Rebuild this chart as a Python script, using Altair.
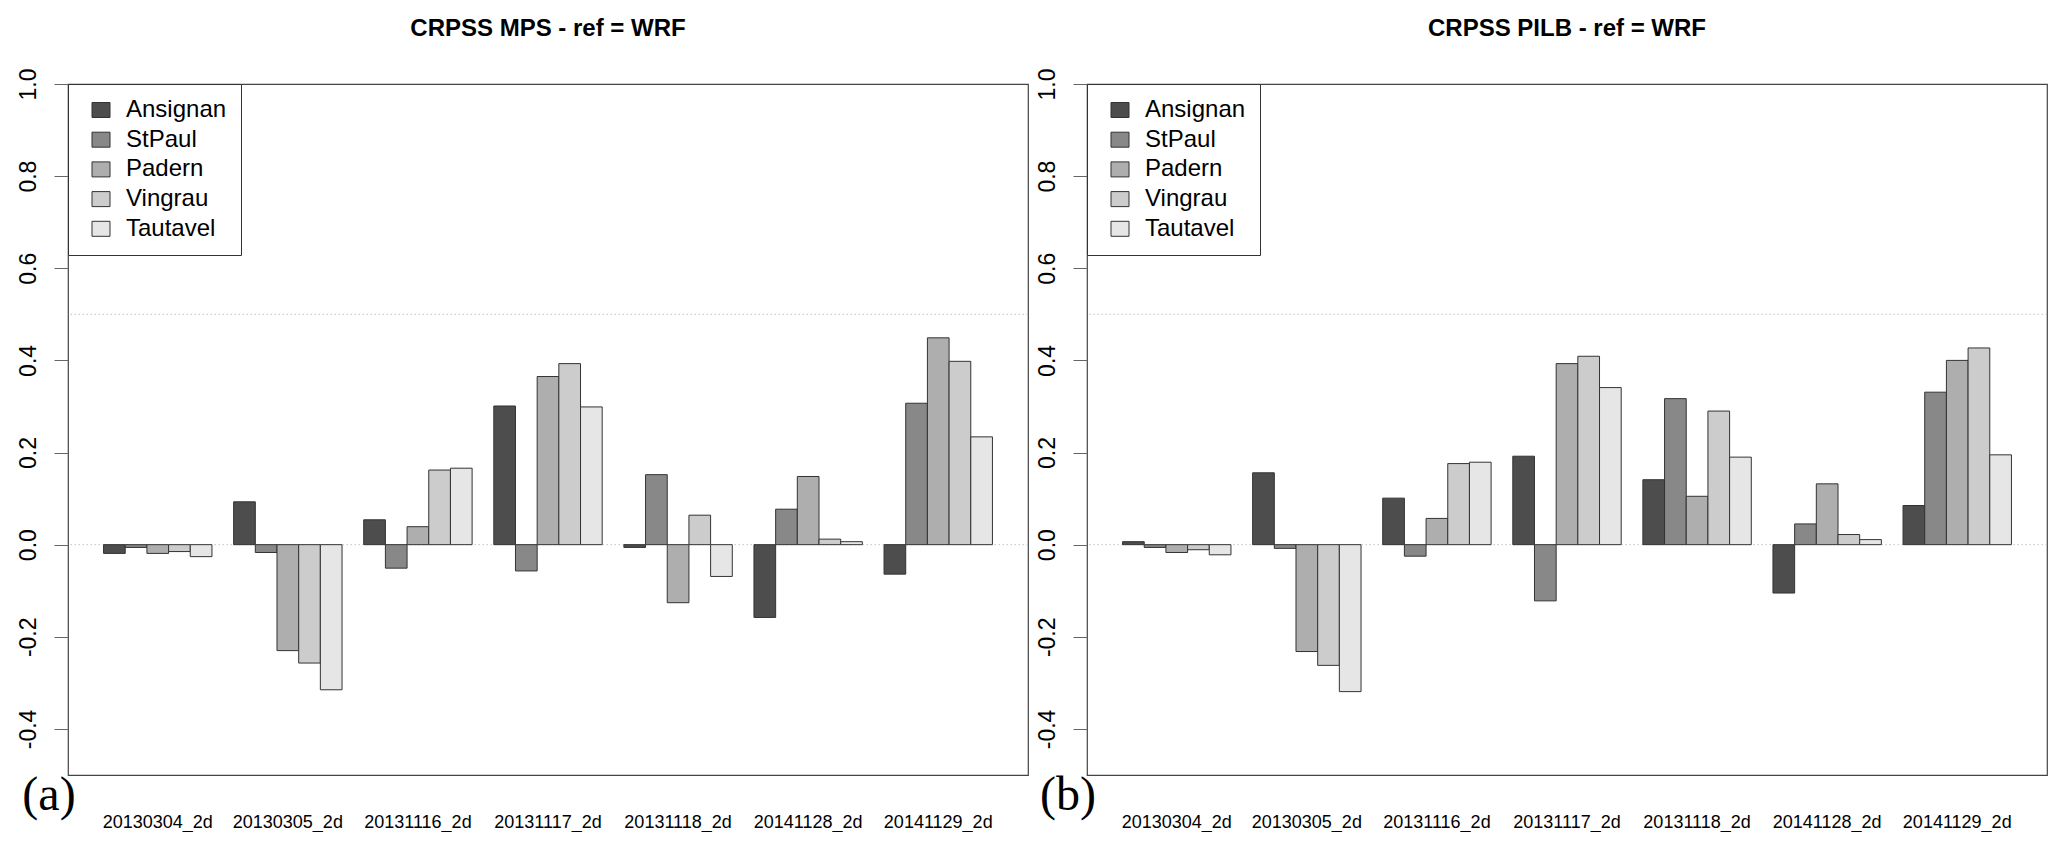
import altair as alt
import pandas as pd

dates = ["20130304_2d", "20130305_2d", "20131116_2d", "20131117_2d",
         "20131118_2d", "20141128_2d", "20141129_2d"]
stations = ["Ansignan", "StPaul", "Padern", "Vingrau", "Tautavel"]
grays = ["#4D4D4D", "#888888", "#AEAEAE", "#CCCCCC", "#E6E6E6"]
y_ticks = [-0.4, -0.2, 0.0, 0.2, 0.4, 0.6, 0.8, 1.0]
ref_levels = [0.0, 0.5]

# CRPSS MPS - ref = WRF  (panel a)
mps_ansignan = [-0.019, 0.093, 0.054, 0.301, -0.006, -0.158, -0.064]
mps_stpaul = [-0.006, -0.017, -0.051, -0.057, 0.152, 0.077, 0.307]
mps_padern = [-0.019, -0.230, 0.039, 0.365, -0.126, 0.148, 0.449]
mps_vingrau = [-0.015, -0.257, 0.162, 0.393, 0.064, 0.012, 0.398]
mps_tautavel = [-0.026, -0.315, 0.166, 0.299, -0.069, 0.0065, 0.234]

# CRPSS PILB - ref = WRF  (panel b)
pilb_ansignan = [0.0065, 0.156, 0.101, 0.192, 0.141, -0.105, 0.085]
pilb_stpaul = [-0.006, -0.008, -0.025, -0.122, 0.317, 0.045, 0.331]
pilb_padern = [-0.017, -0.232, 0.057, 0.393, 0.105, 0.132, 0.400]
pilb_vingrau = [-0.011, -0.262, 0.176, 0.409, 0.290, 0.022, 0.427]
pilb_tautavel = [-0.022, -0.319, 0.179, 0.341, 0.190, 0.011, 0.195]

W, H = 960, 691


def y_axis():
    return alt.Axis(title=None, values=y_ticks, grid=False, domain=False,
                    labelAngle=270, labelAlign="center",
                    labelBaseline="alphabetic", labelPadding=19,
                    tickSize=14, tickColor="#666666", tickWidth=1,
                    labelFontSize=23, labelColor="black",
                    labelFlush=False, labelOverlap=False,
                    labelExpr="(datum.value < 0 ? '-' : '') + format(abs(datum.value), '.1f')")


def make_panel(series, title, tag):
    rows = []
    for st, vals in zip(stations, series):
        for d, v in zip(dates, vals):
            rows.append({"date": d, "station": st, "value": v})
    df = pd.DataFrame(rows)

    yscale = alt.Scale(domain=[-0.5, 1.0], nice=False)

    refs = alt.Chart(pd.DataFrame({"lvl": ref_levels})).mark_rule(
        color="#c4c4c4", strokeDash=[1.5, 2.5], strokeWidth=1
    ).encode(y=alt.Y("lvl:Q", scale=yscale, axis=y_axis()))

    bars = alt.Chart(df).mark_bar(stroke="#333333", strokeWidth=1, opacity=1).encode(
        x=alt.X("date:N", sort=dates,
                scale=alt.Scale(paddingInner=1 / 6, paddingOuter=0.2733),
                axis=alt.Axis(title=None, labelAngle=0, labelFontSize=18,
                              labelPadding=38, ticks=False, domain=False,
                              labelColor="black")),
        xOffset=alt.XOffset("station:N", sort=stations,
                            scale=alt.Scale(paddingInner=0, paddingOuter=0)),
        y=alt.Y("value:Q", scale=yscale, axis=y_axis()),
        y2=alt.datum(0),
        color=alt.Color("station:N", sort=stations,
                        scale=alt.Scale(domain=stations, range=grays),
                        legend=alt.Legend(title=None, orient="top-left", offset=0,
                                          padding=14, strokeColor="#333333",
                                          fillColor="white",
                                          symbolType="M-1,-0.833H1V0.833H-1Z",
                                          symbolSize=324, symbolStrokeColor="#333333",
                                          symbolStrokeWidth=1, symbolOpacity=1,
                                          symbolOffset=7,
                                          labelFontSize=24, labelOffset=13,
                                          labelColor="black", rowPadding=5.7,
                                          cornerRadius=0)),
    )

    tag_text = alt.Chart(pd.DataFrame({"label": [tag]})).mark_text(
        font="Liberation Serif", fontSize=48, align="center",
        baseline="alphabetic", color="black"
    ).encode(x=alt.value(-19), y=alt.value(H + 35), text="label:N")

    return alt.layer(refs, bars, tag_text).properties(
        width=W, height=H, title=title
    )


panel_a = make_panel([mps_ansignan, mps_stpaul, mps_padern, mps_vingrau, mps_tautavel],
                     "CRPSS MPS - ref = WRF", "(a)")
panel_b = make_panel([pilb_ansignan, pilb_stpaul, pilb_padern, pilb_vingrau, pilb_tautavel],
                     "CRPSS PILB - ref = WRF", "(b)")

chart = alt.hconcat(panel_a, panel_b, spacing=5).resolve_scale(
    color="independent", x="independent", y="independent"
).resolve_legend(color="independent").properties(
    padding={"left": 8, "top": 8, "right": 0, "bottom": 0}
).configure_view(
    stroke="#444444", strokeWidth=1.2
).configure_axis(
    labelFont="Liberation Sans"
).configure_legend(
    labelFont="Liberation Sans"
).configure_title(
    font="Liberation Sans", fontSize=24, fontWeight="bold", anchor="middle",
    offset=27, baseline="alphabetic", frame="group", color="black"
)

chart.save("out.html", embed_options={"renderer": "svg", "actions": False})
